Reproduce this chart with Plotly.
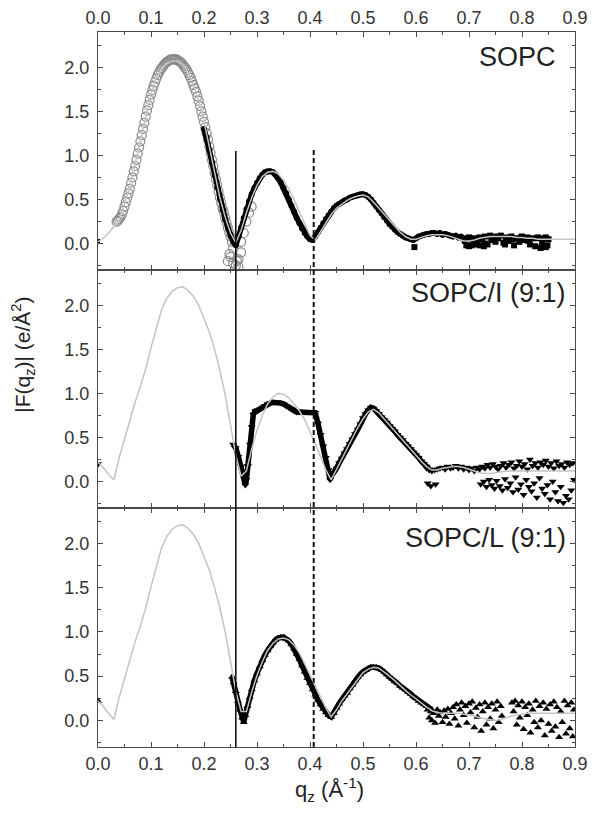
import plotly.graph_objects as go

# ---------------------------------------------------------------- data
# model fits (gray lines), one per sample
fit_q = [0.00, 0.01, 0.02, 0.03, 0.04, 0.05, 0.06, 0.07, 0.08, 0.09,
         0.10, 0.11, 0.12, 0.13, 0.14, 0.15, 0.16, 0.17, 0.18, 0.19,
         0.20, 0.21, 0.22, 0.23, 0.24, 0.25, 0.26, 0.27, 0.28, 0.29,
         0.30, 0.31, 0.32, 0.33, 0.34, 0.35, 0.36, 0.37, 0.38, 0.39,
         0.40, 0.41, 0.42, 0.43, 0.44, 0.45, 0.46, 0.47, 0.48, 0.49,
         0.50, 0.51, 0.52, 0.53, 0.54, 0.55, 0.56, 0.57, 0.58, 0.59,
         0.60, 0.61, 0.62, 0.63, 0.64, 0.65, 0.66, 0.67, 0.68, 0.69,
         0.70, 0.71, 0.72, 0.73, 0.74, 0.75, 0.76, 0.77, 0.78, 0.79,
         0.80, 0.81, 0.82, 0.83, 0.84, 0.85, 0.86, 0.87, 0.88, 0.89, 0.90]

fit_sopc = [0.02, 0.06, 0.12, 0.19, 0.27, 0.45, 0.65, 0.90, 1.18, 1.45,
            1.70, 1.88, 1.98, 2.04, 2.07, 2.07, 2.03, 1.94, 1.80, 1.62,
            1.38, 1.10, 0.80, 0.52, 0.30, 0.12, 0.01, 0.15, 0.35, 0.52,
            0.66, 0.76, 0.81, 0.82, 0.79, 0.72, 0.62, 0.50, 0.36, 0.22,
            0.09, 0.04, 0.14, 0.24, 0.33, 0.40, 0.45, 0.49, 0.52, 0.54,
            0.55, 0.53, 0.47, 0.40, 0.33, 0.26, 0.19, 0.13, 0.08, 0.05,
            0.05, 0.07, 0.09, 0.10, 0.10, 0.10, 0.09, 0.07, 0.05, 0.03,
            0.03, 0.04, 0.06, 0.07, 0.08, 0.08, 0.08, 0.08, 0.08, 0.07,
            0.07, 0.06, 0.06, 0.05, 0.05, 0.05, 0.05, 0.05, 0.05, 0.05, 0.05]

fit_sopc_i = [0.22, 0.16, 0.08, 0.02, 0.27, 0.49, 0.70, 0.90, 1.08, 1.28,
              1.52, 1.75, 1.95, 2.08, 2.16, 2.20, 2.21, 2.17, 2.10, 2.00,
              1.86, 1.70, 1.50, 1.26, 0.98, 0.62, 0.30, 0.06, 0.12, 0.37,
              0.58, 0.75, 0.88, 0.96, 1.00, 0.99, 0.95, 0.88, 0.80, 0.70,
              0.57, 0.43, 0.28, 0.13, 0.02, 0.14, 0.26, 0.38, 0.50, 0.61,
              0.71, 0.79, 0.82, 0.78, 0.71, 0.64, 0.57, 0.50, 0.43, 0.36,
              0.29, 0.23, 0.17, 0.13, 0.13, 0.15, 0.16, 0.17, 0.17, 0.16,
              0.14, 0.12, 0.10, 0.09, 0.09, 0.10, 0.11, 0.12, 0.12, 0.12,
              0.12, 0.12, 0.12, 0.12, 0.12, 0.12, 0.12, 0.12, 0.12, 0.12, 0.12]

fit_sopc_l = [0.22, 0.16, 0.08, 0.01, 0.26, 0.48, 0.69, 0.89, 1.07, 1.27,
              1.51, 1.74, 1.95, 2.08, 2.16, 2.20, 2.21, 2.17, 2.10, 2.00,
              1.86, 1.70, 1.50, 1.27, 1.00, 0.66, 0.33, 0.10, 0.10, 0.32,
              0.51, 0.66, 0.79, 0.87, 0.92, 0.93, 0.91, 0.85, 0.76, 0.64,
              0.51, 0.39, 0.26, 0.14, 0.04, 0.12, 0.22, 0.30, 0.39, 0.47,
              0.54, 0.58, 0.60, 0.59, 0.55, 0.50, 0.45, 0.39, 0.34, 0.29,
              0.24, 0.19, 0.15, 0.11, 0.09, 0.08, 0.08, 0.08, 0.08, 0.07,
              0.06, 0.05, 0.03, 0.02, 0.01, 0.00, 0.01, 0.03, 0.05, 0.06,
              0.07, 0.08, 0.08, 0.08, 0.08, 0.08, 0.08, 0.08, 0.08, 0.08, 0.08]

# SOPC, low-q data (open circles)
sopc_lo_q = [0.035, 0.0375, 0.040, 0.0425, 0.045, 0.0475, 0.050, 0.0525, 0.055, 0.0575,
             0.060, 0.0625, 0.065, 0.0675, 0.070, 0.0725, 0.075, 0.0775, 0.080, 0.0825,
             0.085, 0.0875, 0.090, 0.0925, 0.095, 0.0975, 0.100, 0.1025, 0.105, 0.1075,
             0.110, 0.1125, 0.115, 0.1175, 0.120, 0.1225, 0.125, 0.1275, 0.130, 0.1325,
             0.135, 0.1375, 0.140, 0.1425, 0.145, 0.1475, 0.150, 0.1525, 0.155, 0.1575,
             0.160, 0.1625, 0.165, 0.1675, 0.170, 0.1725, 0.175, 0.1775, 0.180, 0.1825,
             0.185, 0.1875, 0.190, 0.1925, 0.195, 0.1975, 0.200, 0.2025, 0.205, 0.2075,
             0.210, 0.2125, 0.215, 0.2175, 0.220, 0.2225, 0.225, 0.2275, 0.230, 0.2325,
             0.235, 0.2375, 0.240, 0.2425, 0.245, 0.2475, 0.250, 0.2525, 0.255,
             0.250, 0.245, 0.255, 0.260, 0.265, 0.270, 0.270, 0.275, 0.280, 0.285,
             0.290, 0.265, 0.248, 0.262]
sopc_lo_f = [0.25, 0.26, 0.28, 0.30, 0.33, 0.37, 0.42, 0.47, 0.52, 0.57,
             0.62, 0.69, 0.75, 0.82, 0.88, 0.95, 1.02, 1.09, 1.16, 1.23,
             1.30, 1.37, 1.44, 1.51, 1.57, 1.63, 1.69, 1.74, 1.79, 1.83,
             1.87, 1.91, 1.94, 1.97, 1.99, 2.01, 2.03, 2.05, 2.06, 2.07,
             2.08, 2.09, 2.09, 2.09, 2.09, 2.09, 2.08, 2.07, 2.06, 2.05,
             2.03, 2.01, 1.99, 1.97, 1.94, 1.91, 1.88, 1.84, 1.80, 1.76,
             1.72, 1.67, 1.62, 1.56, 1.50, 1.44, 1.38, 1.32, 1.25, 1.18,
             1.10, 1.03, 0.95, 0.88, 0.80, 0.73, 0.66, 0.59, 0.52, 0.46,
             0.40, 0.35, 0.29, 0.24, 0.18, 0.13, 0.08, 0.02, -0.05,
             -0.15, -0.20, -0.22, -0.25, -0.18, -0.10, 0.02, 0.12, 0.25, 0.35,
             0.42, -0.26, -0.12, -0.20]

# SOPC, high-q data (filled)
sopc_hi_q = [0.200, 0.205, 0.210, 0.215, 0.220, 0.225, 0.230, 0.235, 0.240, 0.245,
             0.250, 0.255, 0.260, 0.265, 0.270, 0.275, 0.280, 0.285, 0.290, 0.295,
             0.300, 0.305, 0.310, 0.315, 0.320, 0.325, 0.330, 0.335, 0.340, 0.345,
             0.350, 0.355, 0.360, 0.365, 0.370, 0.375, 0.380, 0.385, 0.390, 0.395,
             0.400, 0.405, 0.410, 0.415, 0.420, 0.425, 0.430, 0.435, 0.440, 0.445,
             0.450, 0.455, 0.460, 0.465, 0.470, 0.475, 0.480, 0.485, 0.490, 0.495,
             0.500, 0.505, 0.510, 0.515, 0.520, 0.525, 0.530, 0.535, 0.540, 0.545,
             0.550, 0.555, 0.560, 0.565, 0.570, 0.575, 0.580, 0.585, 0.590, 0.595,
             0.600, 0.605, 0.610, 0.615, 0.620, 0.625, 0.630, 0.635, 0.640, 0.645,
             0.650, 0.655, 0.660, 0.665, 0.670, 0.675, 0.680, 0.685]
sopc_hi_f = [1.30, 1.20, 1.06, 0.92, 0.78, 0.64, 0.51, 0.39, 0.28, 0.18,
             0.09, 0.02, -0.02, 0.08, 0.18, 0.29, 0.39, 0.48, 0.56, 0.63,
             0.69, 0.74, 0.78, 0.81, 0.82, 0.82, 0.81, 0.78, 0.74, 0.69,
             0.63, 0.57, 0.50, 0.43, 0.36, 0.29, 0.23, 0.17, 0.12, 0.08,
             0.05, 0.04, 0.08, 0.13, 0.18, 0.23, 0.28, 0.32, 0.36, 0.40,
             0.43, 0.45, 0.47, 0.49, 0.50, 0.52, 0.53, 0.54, 0.55, 0.56,
             0.56, 0.55, 0.53, 0.50, 0.46, 0.42, 0.38, 0.34, 0.30, 0.26,
             0.22, 0.19, 0.16, 0.13, 0.11, 0.09, 0.07, 0.06, 0.05, 0.04,
             0.06, 0.08, 0.09, 0.10, 0.11, 0.11, 0.12, 0.12, 0.11, 0.12,
             0.10, 0.11, 0.10, 0.09, 0.08, 0.09, 0.07, 0.08]
sopc_noise_q = [0.597, 0.690, 0.695, 0.700, 0.700, 0.705, 0.705, 0.710, 0.710, 0.715,
                0.720, 0.720, 0.725, 0.730, 0.730, 0.735, 0.740, 0.745, 0.750, 0.755,
                0.760, 0.765, 0.770, 0.775, 0.780, 0.785, 0.790, 0.795, 0.800, 0.805,
                0.810, 0.815, 0.820, 0.825, 0.830, 0.835, 0.840, 0.845, 0.850, 0.845,
                0.692, 0.712, 0.728, 0.742, 0.752, 0.768, 0.782, 0.798, 0.812, 0.828,
                0.838, 0.848]
sopc_noise_f = [-0.04, 0.06, -0.02, 0.07, -0.03, 0.05, -0.02, -0.01, 0.06, 0.04,
                0.07, -0.02, 0.05, 0.08, 0.00, -0.01, 0.09, 0.07, 0.02, 0.06,
                0.09, 0.01, 0.07, 0.03, 0.08, -0.02, 0.06, 0.02, 0.08, 0.04,
                0.07, -0.01, 0.06, -0.03, 0.07, -0.05, 0.06, -0.04, 0.05, 0.07,
                0.03, 0.02, -0.03, 0.04, 0.08, -0.01, 0.05, 0.07, 0.03, 0.06,
                0.01, -0.02]

# SOPC/I (9:1) data
sopc_i_q = [0.255, 0.260, 0.265, 0.270, 0.275, 0.278, 0.280, 0.283, 0.287, 0.290,
            0.293, 0.297, 0.300, 0.305, 0.310, 0.315, 0.320, 0.325, 0.330, 0.335,
            0.340, 0.345, 0.350, 0.355, 0.360, 0.365, 0.370, 0.375, 0.380, 0.385,
            0.390, 0.395, 0.400, 0.405, 0.410, 0.415, 0.420, 0.425, 0.430, 0.435,
            0.438, 0.440, 0.445, 0.450, 0.455, 0.460, 0.465, 0.470, 0.475, 0.480,
            0.485, 0.490, 0.495, 0.500, 0.505, 0.510, 0.515, 0.520, 0.525, 0.530,
            0.535, 0.540, 0.545, 0.550, 0.555, 0.560, 0.565, 0.570, 0.575, 0.580,
            0.585, 0.590, 0.595, 0.600, 0.605, 0.610, 0.615, 0.620, 0.625]
sopc_i_f = [0.42, 0.38, 0.28, 0.17, 0.05, -0.04, 0.02, 0.18, 0.42, 0.62,
            0.76, 0.80, 0.80, 0.82, 0.84, 0.86, 0.88, 0.89, 0.90, 0.90,
            0.90, 0.89, 0.88, 0.86, 0.84, 0.82, 0.80, 0.79, 0.79, 0.79,
            0.79, 0.79, 0.79, 0.79, 0.78, 0.66, 0.53, 0.40, 0.27, 0.13,
            0.02, 0.06, 0.10, 0.15, 0.21, 0.26, 0.32, 0.37, 0.43, 0.48,
            0.54, 0.59, 0.65, 0.72, 0.77, 0.81, 0.84, 0.83, 0.80, 0.77,
            0.73, 0.70, 0.67, 0.63, 0.60, 0.57, 0.53, 0.50, 0.47, 0.43,
            0.40, 0.37, 0.33, 0.30, 0.27, 0.23, 0.20, 0.17, 0.14]
sopc_i_noise_q = [0.620, 0.622, 0.625, 0.628, 0.630, 0.635, 0.637, 0.640, 0.645, 0.650,
                  0.655, 0.660, 0.665, 0.670, 0.675, 0.680, 0.685, 0.690, 0.695, 0.700,
                  0.705, 0.710, 0.715, 0.720, 0.722, 0.725, 0.728, 0.730, 0.733, 0.735,
                  0.738, 0.740, 0.743, 0.745, 0.748, 0.750, 0.752, 0.755, 0.758, 0.760,
                  0.763, 0.765, 0.768, 0.770, 0.773, 0.775, 0.778, 0.780, 0.783, 0.785,
                  0.788, 0.790, 0.793, 0.795, 0.798, 0.800, 0.803, 0.805, 0.808, 0.810,
                  0.813, 0.815, 0.818, 0.820, 0.823, 0.825, 0.828, 0.830, 0.833, 0.835,
                  0.838, 0.840, 0.843, 0.845, 0.848, 0.850, 0.853, 0.855, 0.858, 0.860,
                  0.863, 0.865, 0.868, 0.870, 0.873, 0.875, 0.878, 0.880, 0.883, 0.885,
                  0.888, 0.890, 0.893, 0.896, 0.898]
sopc_i_noise_f = [0.15, -0.02, 0.13, -0.05, 0.12, 0.13, -0.03, 0.14, 0.15, 0.16,
                  0.14, 0.17, 0.15, 0.16, 0.18, 0.15, 0.17, 0.14, 0.16, 0.13,
                  0.15, 0.12, 0.16, 0.14, -0.03, 0.17, 0.00, 0.15, -0.06, 0.19,
                  0.02, 0.16, -0.04, 0.20, -0.08, 0.17, 0.01, 0.14, -0.05, 0.18,
                  -0.10, 0.21, 0.03, 0.16, -0.07, 0.19, -0.02, 0.22, -0.12, 0.15,
                  0.05, 0.18, -0.09, 0.23, -0.03, 0.17, -0.15, 0.20, 0.02, 0.14,
                  -0.06, 0.25, -0.11, 0.18, -0.02, 0.21, -0.18, 0.16, 0.04, 0.22,
                  -0.08, 0.19, -0.14, 0.24, -0.04, 0.17, -0.20, 0.21, 0.00, 0.15,
                  -0.12, 0.23, -0.22, 0.18, -0.06, 0.20, -0.24, 0.16, -0.16, 0.22,
                  -0.20, 0.19, -0.10, 0.21, 0.02]

# SOPC/L (9:1) data
sopc_l_q = [0.253, 0.256, 0.260, 0.264, 0.268, 0.272, 0.275, 0.278, 0.282, 0.286,
            0.290, 0.295, 0.300, 0.305, 0.310, 0.315, 0.320, 0.325, 0.330, 0.335,
            0.340, 0.345, 0.350, 0.355, 0.360, 0.365, 0.370, 0.375, 0.380, 0.385,
            0.390, 0.395, 0.400, 0.405, 0.410, 0.415, 0.420, 0.425, 0.430, 0.435,
            0.440, 0.445, 0.450, 0.455, 0.460, 0.465, 0.470, 0.475, 0.480, 0.485,
            0.490, 0.495, 0.500, 0.505, 0.510, 0.515, 0.520, 0.525, 0.530, 0.535,
            0.540, 0.545, 0.550, 0.555, 0.560, 0.565, 0.570, 0.575, 0.580, 0.585,
            0.590, 0.595, 0.600, 0.605, 0.610, 0.615, 0.620, 0.625, 0.630]
sopc_l_f = [0.49, 0.43, 0.33, 0.22, 0.12, 0.03, -0.02, 0.06, 0.16, 0.26,
            0.35, 0.45, 0.53, 0.61, 0.68, 0.74, 0.79, 0.84, 0.88, 0.91,
            0.93, 0.94, 0.94, 0.92, 0.90, 0.86, 0.81, 0.75, 0.69, 0.62,
            0.55, 0.48, 0.42, 0.35, 0.29, 0.23, 0.18, 0.13, 0.09, 0.06,
            0.04, 0.08, 0.14, 0.19, 0.24, 0.28, 0.31, 0.36, 0.40, 0.45,
            0.49, 0.52, 0.55, 0.57, 0.59, 0.60, 0.60, 0.60, 0.59, 0.57,
            0.55, 0.52, 0.49, 0.47, 0.44, 0.42, 0.39, 0.37, 0.35, 0.32,
            0.30, 0.27, 0.25, 0.22, 0.20, 0.18, 0.16, 0.14, 0.12]
sopc_l_noise_q = [0.622, 0.625, 0.628, 0.630, 0.633, 0.636, 0.640, 0.643, 0.646, 0.650,
                  0.653, 0.656, 0.660, 0.663, 0.666, 0.670, 0.673, 0.676, 0.680, 0.683,
                  0.686, 0.690, 0.693, 0.696, 0.700, 0.703, 0.706, 0.710, 0.713, 0.716,
                  0.720, 0.723, 0.726, 0.730, 0.733, 0.736, 0.740, 0.743, 0.746, 0.750,
                  0.753, 0.756, 0.760, 0.762,
                  0.781, 0.784, 0.787, 0.790, 0.793, 0.796, 0.800, 0.803, 0.806, 0.810,
                  0.813, 0.816, 0.820, 0.823, 0.826, 0.830, 0.833, 0.836, 0.840, 0.843,
                  0.846, 0.850, 0.853, 0.856, 0.860, 0.863, 0.866, 0.870, 0.873, 0.876,
                  0.880, 0.883, 0.886, 0.890, 0.893, 0.896, 0.898]
sopc_l_noise_f = [0.12, 0.03, 0.10, 0.00, 0.08, -0.03, 0.12, 0.05, 0.09, -0.02,
                  0.11, 0.04, 0.13, -0.04, 0.08, 0.15, 0.02, 0.18, -0.06, 0.12,
                  0.20, 0.06, 0.16, -0.03, 0.19, 0.09, 0.21, -0.08, 0.14, 0.04,
                  0.18, -0.12, 0.10, 0.20, -0.05, 0.15, 0.02, 0.19, -0.09, 0.12,
                  0.21, -0.02, 0.16, 0.05,
                  0.20, 0.10, 0.22, -0.05, 0.17, 0.03, 0.21, -0.10, 0.15, 0.06,
                  0.19, -0.14, 0.12, -0.02, 0.22, -0.08, 0.16, 0.00, 0.20, -0.17,
                  0.13, -0.04, 0.18, -0.12, 0.21, -0.07, 0.15, -0.19, 0.10, -0.02,
                  0.22, -0.15, 0.17, -0.09, 0.20, -0.18, 0.12]

panel_labels = ["SOPC", "SOPC/I (9:1)", "SOPC/L (9:1)"]
q_solid = 0.26
q_dashed = 0.407
y_range = [-0.3, 2.4]

# ---------------------------------------------------------------- figure
FONT = "Liberation Sans, Arial, sans-serif"
AX = "#4a4a4a"
FIT = "#c4c4c4"
domains = [[0.6671, 1.0], [0.3343, 0.6671], [0.0, 0.3343]]

fig = go.Figure()


def fit_trace(y, n):
    return go.Scatter(x=fit_q, y=y, mode="lines", line=dict(color=FIT, width=1.5),
                      xaxis=f"x{n}", yaxis=f"y{n}", showlegend=False)


def data_trace(q, f, n, symbol, connect=True, size=6):
    return go.Scatter(x=q, y=f, mode="lines+markers" if connect else "markers",
                      line=dict(color="black", width=5.5),
                      marker=dict(symbol=symbol, size=size, color="black"),
                      xaxis=f"x{n}", yaxis=f"y{n}", showlegend=False)


# panel 1: SOPC
fig.add_trace(go.Scatter(x=sopc_lo_q, y=sopc_lo_f, mode="markers",
                         marker=dict(symbol="circle-open", size=9, color="#8a8a8a", line=dict(width=1.2)),
                         xaxis="x", yaxis="y", showlegend=False))
fig.add_trace(data_trace(sopc_hi_q, sopc_hi_f, "", "circle"))
fig.add_trace(data_trace(sopc_noise_q, sopc_noise_f, "", "square", connect=False, size=6))
fig.add_trace(data_trace([0.0], [0.03], "", "square", connect=False, size=4))
fig.add_trace(fit_trace(fit_sopc, ""))

# panel 2: SOPC/I
fig.add_trace(data_trace(sopc_i_q, sopc_i_f, 2, "triangle-down", size=7))
fig.add_trace(data_trace(sopc_i_noise_q, sopc_i_noise_f, 2, "triangle-down", connect=False, size=7))
fig.add_trace(data_trace([0.0], [0.2], 2, "triangle-down", connect=False, size=7))
fig.add_trace(fit_trace(fit_sopc_i, 2))

# panel 3: SOPC/L
fig.add_trace(data_trace(sopc_l_q, sopc_l_f, 3, "triangle-up", size=7))
fig.add_trace(data_trace(sopc_l_noise_q, sopc_l_noise_f, 3, "triangle-up", connect=False, size=7))
fig.add_trace(data_trace([0.0], [0.22], 3, "triangle-up", connect=False, size=7))
fig.add_trace(fit_trace(fit_sopc_l, 3))

axis_common = dict(showline=True, linecolor=AX, linewidth=1.2, mirror="allticks",
                   ticks="inside", ticklen=5, tickwidth=1.2, tickcolor=AX,
                   showgrid=False, zeroline=False, automargin=False,
                   tickfont=dict(family=FONT, size=18, color="#333333"))

layout_axes = {}
for i, dom in enumerate(domains):
    sfx = "" if i == 0 else str(i + 1)
    xa = dict(axis_common, domain=[0, 1], range=[0, 0.9], dtick=0.1, tick0=0,
              tickformat=".1f", anchor=f"y{sfx}",
              minor=dict(ticks="inside", dtick=0.05, ticklen=3, tickcolor=AX))
    if i == 0:
        xa["side"] = "top"
    elif i == 1:
        xa["showticklabels"] = False
    ya = dict(axis_common, domain=dom, range=y_range, dtick=0.5, tick0=0,
              tickformat=".1f", anchor=f"x{sfx}", ticklabelstandoff=4,
              minor=dict(ticks="inside", dtick=0.25, ticklen=3, tickcolor=AX))
    layout_axes[f"xaxis{sfx}"] = xa
    layout_axes[f"yaxis{sfx}"] = ya


def paper_y(val, dom):
    return dom[0] + (val - y_range[0]) / (y_range[1] - y_range[0]) * (dom[1] - dom[0])


shapes = [
    dict(type="line", xref="x3", yref="paper", x0=q_solid, x1=q_solid,
         y0=0, y1=paper_y(1.05, domains[0]), line=dict(color="#111111", width=1.6)),
    dict(type="line", xref="x3", yref="paper", x0=q_dashed, x1=q_dashed,
         y0=0, y1=paper_y(1.07, domains[0]), line=dict(color="#111111", width=2, dash="5px,3px")),
]

label_pos = [(0.964, 0.965), (0.985, 0.635), (0.985, 0.292)]
annotations = []
for text, (ax_, ay_) in zip(panel_labels, label_pos):
    annotations.append(dict(text=text, xref="paper", yref="paper", x=ax_, y=ay_,
                            xanchor="right", yanchor="middle", showarrow=False,
                            font=dict(family=FONT, size=27, color="#222222")))
annotations.append(dict(text="|F(q<sub>z</sub>)| (e/Å<sup>2</sup>)", xref="paper", yref="paper",
                        x=-0.158, y=0.548, textangle=-90, showarrow=False,
                        xanchor="center", yanchor="middle",
                        font=dict(family=FONT, size=21, color="#222222")))
annotations.append(dict(text="q<sub>z</sub> (Å<sup>-1</sup>)", xref="paper", yref="paper",
                        x=0.486, y=-0.06, showarrow=False, xanchor="center", yanchor="middle",
                        font=dict(family=FONT, size=22, color="#222222")))

# the page body adds an 8px offset, so the margins are shifted to compensate
fig.update_layout(width=600, height=820,
                  margin=dict(l=90, r=33, t=24, b=81, autoexpand=False),
                  paper_bgcolor="white", plot_bgcolor="white",
                  shapes=shapes, annotations=annotations, **layout_axes)

fig.write_html("out.html")
